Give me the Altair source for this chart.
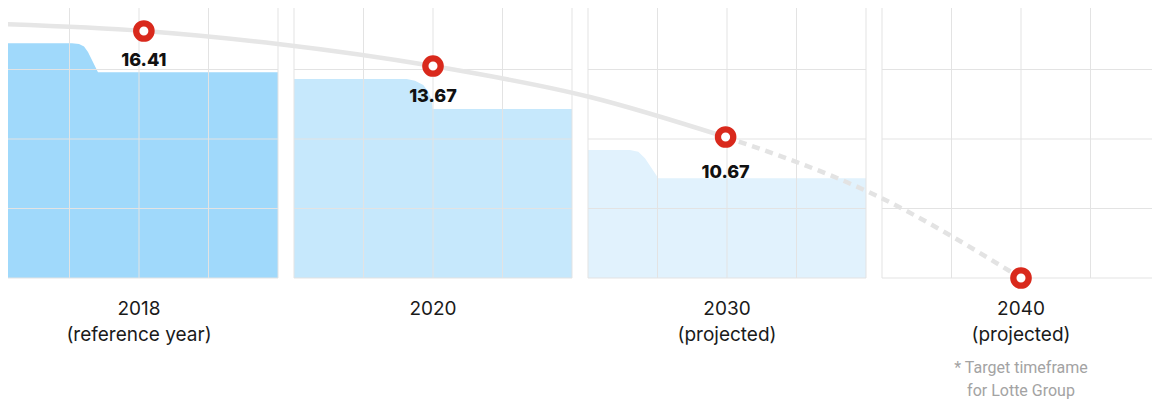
import altair as alt
import pandas as pd

# ---------------- data ----------------
years = ["2018", "2020", "2030", "2040"]
year_notes = ["(reference year)", "", "(projected)", "(projected)"]
value_labels = ["16.41", "13.67", "10.67", ""]
footnote = ["* Target timeframe", "for Lotte Group"]

# marker position inside each panel (grid cells) and its level (grid cells)
marker_offset = [2.07, 2.0, 1.98, 2.0]
marker_level = [3.554, 3.050, 2.029, 0.0]
# baseline level of the value labels
label_level = [3.055, 2.537, 1.439]

# folder-shaped areas: top edge per panel (x in cells within panel, level in cells)
folder_x = [
    [0.0, 1.036, 1.137, 1.209, 1.266, 1.41, 4.0],
    [0.0, 1.622, 1.741, 1.860, 1.932, 1.981, 1.996, 4.0],
    [0.0, 0.604, 0.724, 0.820, 1.012, 4.0],
]
folder_level = [
    [3.377, 3.377, 3.367, 3.331, 3.252, 2.96, 2.96],
    [2.863, 2.863, 2.839, 2.777, 2.681, 2.561, 2.432, 2.432],
    [1.842, 1.842, 1.817, 1.722, 1.435, 1.435],
]
folder_colors = ["#a0d9fb", "#c6e8fc", "#e1f2fd"]

# trend curve (absolute cells), solid part and projected (dashed) part
curve_x = [0.0, 2.07, 4.0, 6.23, 8.489, 10.44]
curve_level = [3.655, 3.554, 3.367, 3.05, 2.604, 2.029]
proj_x = [10.44, 12.59, 14.69]
proj_level = [2.029, 1.194, 0.0]

# ---------------- layout constants ----------------
CELL_PX = 69.5
PANEL = 4.0                    # cells per panel side
STRIDE = 294 / CELL_PX         # panel + gap
X0 = 8 / CELL_PX
X1 = 1152 / CELL_PX
Y_TOP = PANEL - 8 / CELL_PX
Y_BOT = PANEL - 404 / CELL_PX
W = round((X1 - X0) * CELL_PX)
H = round((Y_TOP - Y_BOT) * CELL_PX)

starts = [i * STRIDE for i in range(4)]

xs = alt.Scale(domain=[X0, X1], nice=False, zero=False)
ys = alt.Scale(domain=[Y_BOT, Y_TOP], nice=False, zero=False)

# folder areas
rows = []
for p, (fx, fl) in enumerate(zip(folder_x, folder_level)):
    for x, l in zip(fx, fl):
        rows.append({"panel": years[p], "x": starts[p] + x, "top": l, "base": 0.0})
df_area = pd.DataFrame(rows)

areas = alt.Chart(df_area).mark_area(interpolate="linear", clip=True).encode(
    x=alt.X("x:Q", scale=xs, axis=None),
    y=alt.Y("top:Q", scale=ys, axis=None, stack=None),
    y2="base:Q",
    color=alt.Color("panel:N", scale=alt.Scale(domain=years[:3], range=folder_colors), legend=None),
)

# grid lines
g = []
for s in starts:
    for k in range(5):
        g.append({"x": s + k, "x2": s + k, "y": 0.0, "y2": PANEL})
        g.append({"x": s, "x2": s + PANEL, "y": float(k), "y2": float(k)})
df_grid = pd.DataFrame(g)
grid = alt.Chart(df_grid).mark_rule(color="#e3e3e3", strokeWidth=1, clip=True).encode(
    x=alt.X("x:Q", scale=xs, axis=None), x2="x2:Q",
    y=alt.Y("y:Q", scale=ys, axis=None), y2="y2:Q",
)

df_curve = pd.DataFrame({"x": curve_x, "level": curve_level})
curve = alt.Chart(df_curve).mark_line(
    color="#e6e6e6", strokeWidth=4.5, interpolate="monotone", clip=True
).encode(
    x=alt.X("x:Q", scale=xs, axis=None),
    y=alt.Y("level:Q", scale=ys, axis=None),
)

df_proj = pd.DataFrame({"x": proj_x, "level": proj_level})
proj = alt.Chart(df_proj).mark_line(
    color="#e3e3e3", strokeWidth=4.5, interpolate="monotone", strokeDash=[8, 6], clip=True
).encode(
    x=alt.X("x:Q", scale=xs, axis=None),
    y=alt.Y("level:Q", scale=ys, axis=None),
)

df_pts = pd.DataFrame({
    "year": years,
    "x": [s + o for s, o in zip(starts, marker_offset)],
    "level": marker_level,
})
points = alt.Chart(df_pts).mark_point(
    shape="circle", filled=True, fill="white", stroke="#d9291c",
    strokeWidth=6.3, size=235, opacity=1, clip=True
).encode(
    x=alt.X("x:Q", scale=xs, axis=None),
    y=alt.Y("level:Q", scale=ys, axis=None),
)

df_vals = pd.DataFrame({
    "label": value_labels[:3],
    "x": [s + o for s, o in zip(starts[:3], marker_offset[:3])],
    "level": label_level,
})
vals = alt.Chart(df_vals).mark_text(
    font="Inter", fontSize=18, fontWeight=800, color="#111111",
    align="center", baseline="alphabetic"
).encode(
    x=alt.X("x:Q", scale=xs, axis=None),
    y=alt.Y("level:Q", scale=ys, axis=None),
    text="label:N",
)

YEAR_LEVEL = PANEL - 315 / CELL_PX
NOTE_LEVEL = PANEL - 341 / CELL_PX
lab_rows = []
for p in range(4):
    lab_rows.append({"t": years[p], "x": starts[p] + PANEL / 2, "level": YEAR_LEVEL})
    if year_notes[p]:
        lab_rows.append({"t": year_notes[p], "x": starts[p] + PANEL / 2, "level": NOTE_LEVEL})
df_lab = pd.DataFrame(lab_rows)
labels = alt.Chart(df_lab).mark_text(
    font="Inter", fontSize=19, color="#1a1a1a", align="center", baseline="alphabetic"
).encode(
    x=alt.X("x:Q", scale=xs, axis=None),
    y=alt.Y("level:Q", scale=ys, axis=None),
    text="t:N",
)

df_foot = pd.DataFrame({
    "t": footnote,
    "x": [starts[3] + PANEL / 2] * 2,
    "level": [PANEL - 372.5 / CELL_PX, PANEL - 396 / CELL_PX],
})
foot = alt.Chart(df_foot).mark_text(
    font="Roboto", fontSize=16, color="#a3a3a3", align="center", baseline="alphabetic"
).encode(
    x=alt.X("x:Q", scale=xs, axis=None),
    y=alt.Y("level:Q", scale=ys, axis=None),
    text="t:N",
)

chart = alt.layer(areas, grid, curve, proj, points, vals, labels, foot).properties(
    width=W, height=H, padding=0, autosize=alt.AutoSizeParams(type="none")
).configure_view(strokeWidth=0)

chart.save("out.html", embed_options={"renderer": "svg", "actions": False})
